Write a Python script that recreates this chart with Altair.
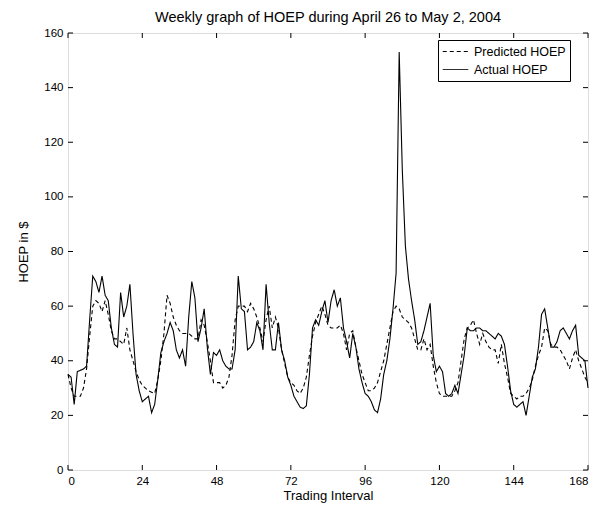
import altair as alt
import pandas as pd

hours = list(range(169))

actual = [35, 34, 24, 36, 36.5, 37, 38, 55, 71, 69, 65, 71, 64, 62, 52, 46, 45, 65, 56, 60,
          68, 50, 35, 29, 25, 26, 27, 21, 24, 33, 43, 47, 50, 54, 51, 44, 41, 44, 38, 56,
          69, 63, 47, 52, 59, 45, 35, 43, 42, 44, 40, 38, 37, 37, 44, 71, 59, 58, 44, 45,
          47, 54, 51, 44, 68, 54, 44, 44, 54, 44, 40, 34, 31, 27, 25, 23, 22.5, 23.5, 35, 52,
          55, 53, 58, 62, 54, 62, 66, 60, 63, 52, 47, 41, 50, 45, 37, 32, 28, 27, 25, 22,
          21, 26, 35, 40, 48, 59, 72, 153, 110, 82, 70, 62, 55, 46, 47, 51, 56, 61, 42, 36,
          38, 36, 28, 27, 28, 31, 28, 35, 42, 52, 51, 51, 52, 52, 51, 51, 50, 49, 48, 50,
          49, 46, 38, 29, 24, 23, 24, 25, 20, 27, 34, 37, 45, 57, 59, 52, 45, 45, 47, 51,
          52, 50, 48, 51, 53, 42, 41, 40, 30]

predicted = [35, 30, 27, 27, 27, 30, 37, 49, 60, 62, 61, 58, 62, 57, 51, 48, 48, 47, 46, 52,
             44, 40, 36, 33, 31, 30, 29, 28.5, 28, 33, 40, 50, 64, 61, 56, 53, 51, 50, 50, 50,
             49, 48, 48, 55, 53, 47, 40, 32, 32, 32, 30, 31, 34, 42, 55, 60, 60, 60, 58, 61,
             59, 56, 52, 47, 55, 60, 52, 56, 52, 44, 39, 34, 32, 31, 29, 28, 30, 34, 42, 49,
             54, 57, 60, 57, 53, 52, 52, 52, 53, 50, 44, 50, 51, 45, 40, 35, 32, 29, 29, 30,
             32, 36, 40, 46, 52, 58, 60, 59, 56, 55, 54, 52, 48, 44, 44, 48, 44, 46, 38, 32,
             28, 27, 27, 27, 27, 29, 32, 40, 48, 52, 53, 55, 50, 46, 50, 47, 45, 44, 44, 39,
             46, 39, 34, 28, 27, 26, 27, 27, 28, 30, 33, 38, 42, 45, 52, 51, 46, 45, 45, 44,
             42, 40, 37, 41, 44, 40, 37, 34, 32]

series_names = ["Predicted HOEP", "Actual HOEP"]
x_ticks = [0, 24, 48, 72, 96, 120, 144, 168]
y_ticks = [0, 20, 40, 60, 80, 100, 120, 140, 160]

W, H = 520, 437
FONT = "Liberation Sans"

df = pd.DataFrame({
    "hour": hours + hours,
    "value": predicted + actual,
    "series": [series_names[0]] * len(hours) + [series_names[1]] * len(hours),
})

xscale = alt.Scale(domain=[0, 168], nice=False, zero=False)
yscale = alt.Scale(domain=[0, 160], nice=False)

xaxis = alt.Axis(values=x_ticks, title="Trading Interval", grid=False,
                 ticks=False, tickSize=0, domain=False, labelPadding=5,
                 labelFontSize=11.5, titleFontSize=13, titlePadding=3,
                 labelFont=FONT, titleFont=FONT, labelColor="black",
                 titleColor="black", titleFontWeight="normal")
yaxis = alt.Axis(values=y_ticks, title="HOEP in $", grid=False,
                 ticks=False, tickSize=0, domain=False, labelPadding=5,
                 labelFontSize=11.5, titleFontSize=13, titlePadding=13,
                 labelFont=FONT, titleFont=FONT, labelColor="black",
                 titleColor="black", titleFontWeight="normal")

lines = alt.Chart(df).mark_line(color="black", strokeWidth=1.1).encode(
    x=alt.X("hour:Q", scale=xscale, axis=xaxis, title="Trading Interval"),
    y=alt.Y("value:Q", scale=yscale, axis=yaxis, title="HOEP in $"),
    strokeDash=alt.StrokeDash(
        "series:N",
        scale=alt.Scale(domain=series_names, range=[[4, 3], [1, 0]]),
        legend=alt.Legend(
            title=None, orient="none", legendX=370, legendY=7,
            strokeColor="black", fillColor="white", padding=4, cornerRadius=0,
            symbolType="stroke", symbolSize=650, symbolStrokeWidth=1,
            symbolStrokeColor="black", labelFontSize=12.5, labelFont=FONT,
            labelColor="black", clipHeight=15, rowPadding=3, labelOffset=5,
        ),
    ),
    order=alt.Order("hour:Q"),
)

xt = pd.DataFrame({"t": x_ticks})
yt = pd.DataFrame({"t": y_ticks})

tick_b = alt.Chart(xt).mark_rule(color="black").encode(
    x=alt.X("t:Q", scale=xscale, axis=xaxis, title="Trading Interval"),
    y=alt.value(H), y2=alt.value(H - 5))
tick_t = alt.Chart(xt).mark_rule(color="black").encode(
    x=alt.X("t:Q", scale=xscale, axis=xaxis, title="Trading Interval"),
    y=alt.value(0), y2=alt.value(5))
tick_l = alt.Chart(yt).mark_rule(color="black").encode(
    y=alt.Y("t:Q", scale=yscale, axis=yaxis, title="HOEP in $"),
    x=alt.value(0), x2=alt.value(5))
tick_r = alt.Chart(yt).mark_rule(color="black").encode(
    y=alt.Y("t:Q", scale=yscale, axis=yaxis, title="HOEP in $"),
    x=alt.value(W - 5), x2=alt.value(W))

chart = alt.layer(lines, tick_b, tick_t, tick_l, tick_r).properties(
    width=W, height=H,
    title=alt.TitleParams("Weekly graph of HOEP during April 26 to May 2, 2004",
                          fontSize=14.5, font=FONT, fontWeight="normal", color="black",
                          anchor="middle", offset=2),
    autosize=alt.AutoSizeParams(type="none"),
    padding={"left": 60, "top": 25, "right": 10, "bottom": 35},
).configure_view(stroke="black", strokeWidth=1).configure(background="white")

chart.save("out.html", embed_options={"renderer": "svg", "actions": False})
